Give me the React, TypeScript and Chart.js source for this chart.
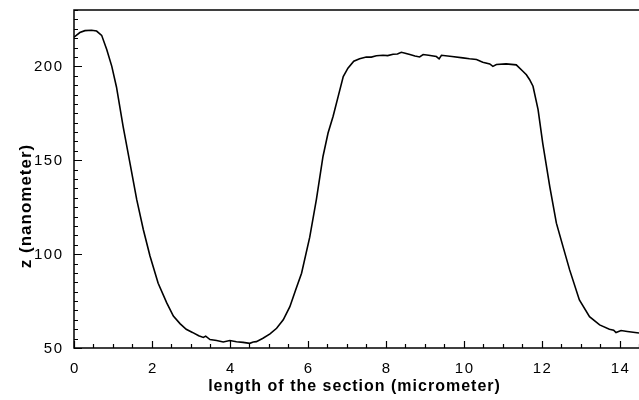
import React, { useEffect, useRef } from "react";
import { Chart, registerables } from "chart.js";

Chart.register(...registerables);

// section position (micrometer)
const xValues = [
  0, 0.15, 0.28, 0.45, 0.58, 0.71, 0.84, 0.97, 1.09, 1.26, 1.44, 1.61, 1.78, 1.95,
  2.16, 2.38, 2.55, 2.72, 2.88, 3.04, 3.2, 3.32, 3.38, 3.49, 3.66, 3.83, 4.0, 4.17,
  4.34, 4.51, 4.6, 4.68, 4.85, 5.03, 5.2, 5.37, 5.54, 5.69, 5.84, 6.05, 6.22, 6.39,
  6.52, 6.65, 6.78, 6.91, 7.03, 7.18, 7.33, 7.5, 7.63, 7.76, 7.93, 8.05, 8.19, 8.3,
  8.4, 8.5, 8.62, 8.75, 8.87, 8.96, 9.1, 9.3, 9.37, 9.43, 9.7, 9.98, 10.15, 10.33,
  10.49, 10.67, 10.75, 10.84, 11.09, 11.35, 11.52, 11.61, 11.69, 11.78, 11.91, 12.03,
  12.21, 12.38, 12.55, 12.72, 12.97, 13.23, 13.49, 13.74, 13.85, 13.91, 14.04, 14.2,
  14.5,
];

// height z (nanometer)
const zValues = [
  215.5, 218, 219, 219.2, 218.8, 216.5, 209, 200, 189, 168, 148, 129, 113, 99,
  84.5, 74, 67, 63, 60, 58.3, 56.5, 55.6, 56.3, 54.5, 54, 53.2, 54, 53.3,
  53, 52.5, 53.2, 53.4, 55.2, 57.5, 60.5, 65, 72, 81, 89.8, 109, 129, 152,
  164.5, 173.4, 184, 194.5, 199, 202.7, 204, 205, 204.9, 205.6, 205.9, 205.7, 206.4, 206.6,
  207.5, 207, 206.3, 205.5, 205, 206.3, 205.9, 205.2, 204, 205.9, 205.2, 204.5, 204, 203.6,
  202.2, 201.3, 200, 201, 201.3, 200.8, 197.4, 195.5, 193, 189.4, 177, 159,
  136, 116.5, 104, 91.6, 75.6, 66.7, 62.3, 60, 59.5, 58.2, 59.3, 58.8,
  58,
];

const xTickLabels = [0, 2, 4, 6, 8, 10, 12, 14];
const yTickLabels = [50, 100, 150, 200];

const xMin = 0;
const xMax = 14.5;
const xMajorStep = 2;
const xMinorStep = 0.5;
const yMin = 50;
const yMax = 230;
const yMajorStep = 50;
const yMinorStep = 5;

const xTitle = "length of the section (micrometer)";
const yTitle = "z (nanometer)";

const FONT = "'Liberation Sans', Arial, sans-serif";

const framePlugin = {
  id: "frame",
  afterDraw(chart: any) {
    const { ctx, chartArea, scales } = chart;
    const xs = scales.x;
    const ys = scales.y;
    ctx.save();
    ctx.strokeStyle = "#000";
    ctx.lineWidth = 1.5;
    ctx.lineCap = "butt";
    ctx.beginPath();
    ctx.moveTo(chartArea.right, chartArea.top);
    ctx.lineTo(chartArea.left, chartArea.top);
    ctx.lineTo(chartArea.left, chartArea.bottom);
    ctx.lineTo(chartArea.right, chartArea.bottom);
    ctx.stroke();

    ctx.lineWidth = 1.2;
    ctx.beginPath();
    const nx = Math.round((xMax - xMin) / xMinorStep);
    for (let i = 0; i <= nx; i++) {
      const v = xMin + i * xMinorStep;
      const px = Math.round(xs.getPixelForValue(v)) + 0.5;
      const major = Math.abs(v / xMajorStep - Math.round(v / xMajorStep)) < 1e-6;
      const len = major ? 7 : 4;
      ctx.moveTo(px, chartArea.bottom);
      ctx.lineTo(px, chartArea.bottom - len);
    }
    const ny = Math.round((yMax - yMin) / yMinorStep);
    for (let i = 0; i <= ny; i++) {
      const v = yMin + i * yMinorStep;
      const py = Math.round(ys.getPixelForValue(v)) + 0.5;
      const major = Math.abs(v / yMajorStep - Math.round(v / yMajorStep)) < 1e-6;
      const len = major ? 8 : 4;
      ctx.moveTo(chartArea.left, py);
      ctx.lineTo(chartArea.left + len, py);
    }
    ctx.stroke();

    ctx.fillStyle = "#000";
    // tick labels
    ctx.font = `15px ${FONT}`;
    ctx.letterSpacing = "1.5px";
    ctx.textBaseline = "middle";
    ctx.textAlign = "center";
    for (const v of xTickLabels) {
      ctx.fillText(String(v), xs.getPixelForValue(v) + 1, chartArea.bottom + 21);
    }
    ctx.textAlign = "right";
    for (const v of yTickLabels) {
      ctx.fillText(String(v), chartArea.left - 10.5, ys.getPixelForValue(v) + 0.5);
    }

    // axis titles
    ctx.textAlign = "center";
    ctx.letterSpacing = "1px";
    ctx.font = `bold 16px ${FONT}`;
    ctx.fillText(xTitle, (chartArea.left + chartArea.right) / 2 - 2, 387);

    ctx.translate(26, 206);
    ctx.rotate(-Math.PI / 2);
    ctx.font = `bold 17px ${FONT}`;
    ctx.fillText(yTitle, 0, 0);
    ctx.restore();
  },
};

export default function App() {
  const canvasRef = useRef<HTMLCanvasElement | null>(null);

  useEffect(() => {
    const canvas = canvasRef.current;
    if (!canvas) return;
    const points = xValues.map((x, i) => ({ x, y: zValues[i] }));
    const chart = new Chart(canvas, {
      type: "line",
      data: {
        datasets: [
          {
            data: points,
            borderColor: "#000",
            borderWidth: 1.6,
            pointRadius: 0,
            tension: 0,
            fill: false,
          },
        ],
      },
      options: {
        animation: false,
        responsive: false,
        maintainAspectRatio: false,
        layout: { padding: { top: 10, right: 0, left: 0, bottom: 0 } },
        plugins: {
          legend: { display: false },
          tooltip: { enabled: false },
          title: { display: false },
        },
        scales: {
          x: {
            type: "linear",
            min: xMin,
            max: xMax,
            grid: { display: false, drawTicks: false },
            border: { display: false },
            ticks: { display: false, stepSize: xMajorStep },
            afterFit: (s: any) => {
              s.height = 52;
              s.paddingLeft = 0;
              s.paddingRight = 0;
            },
          },
          y: {
            type: "linear",
            min: yMin,
            max: yMax,
            grid: { display: false, drawTicks: false },
            border: { display: false },
            ticks: { display: false, stepSize: yMajorStep },
            afterFit: (s: any) => {
              s.width = 74;
              s.paddingTop = 0;
              s.paddingBottom = 0;
            },
          },
        },
      },
      plugins: [framePlugin],
    });
    return () => chart.destroy();
  }, []);

  return (
    <div style={{ position: "absolute", left: 0, top: 0, width: 639, height: 400, background: "#fff" }}>
      <canvas ref={canvasRef} width={639} height={400} style={{ display: "block" }} />
    </div>
  );
}
